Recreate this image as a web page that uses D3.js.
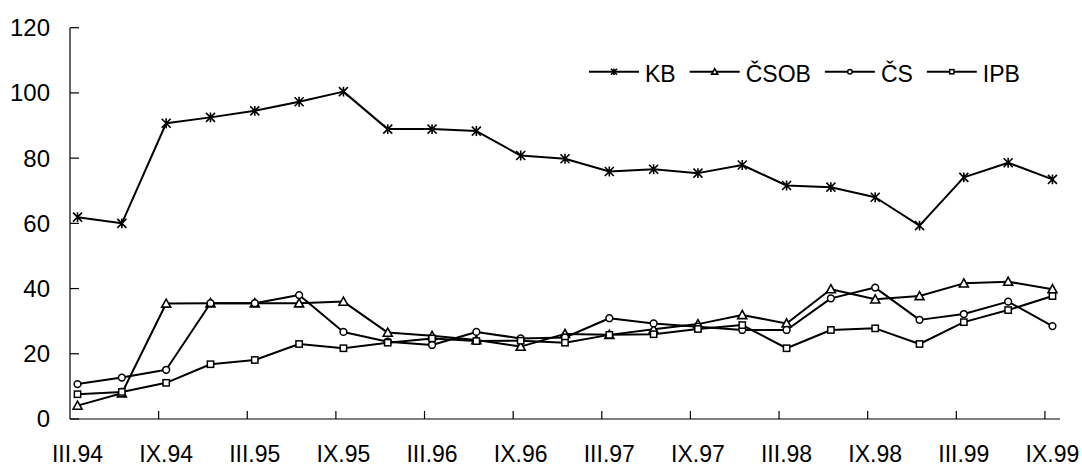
<!DOCTYPE html>
<html><head><meta charset="utf-8">
<script src="https://cdn.jsdelivr.net/npm/d3@7"></script>
<style>
html,body{margin:0;padding:0;background:#fff;}
svg{display:block;}
text{font-family:"Liberation Sans",Arial,sans-serif;fill:#000;}
</style></head>
<body>
<svg id="chart" width="1082" height="468"></svg>
<script>
// ---- data ----
const categories = ["III.94","VI.94","IX.94","XII.94","III.95","VI.95","IX.95","XII.95",
  "III.96","VI.96","IX.96","XII.96","III.97","VI.97","IX.97","XII.97",
  "III.98","VI.98","IX.98","XII.98","III.99","VI.99","IX.99"];
const tickLabels = ["III.94","IX.94","III.95","IX.95","III.96","IX.96","III.97","IX.97","III.98","IX.98","III.99","IX.99"];
const yTicks = [0,20,40,60,80,100,120];
const seriesNames = ["KB","ČSOB","ČS","IPB"];
const kb   = [61.9,60.0,90.7,92.5,94.5,97.3,100.4,88.9,88.9,88.3,80.8,79.8,75.9,76.6,75.4,77.9,71.6,71.1,68.0,59.3,74.1,78.6,73.5];
const csob = [4.1,7.9,35.4,35.5,35.5,35.5,36.0,26.5,25.5,24.2,22.2,26.1,25.8,27.5,29.1,31.9,29.3,39.8,36.7,37.7,41.6,42.1,39.8];
const cs   = [10.7,12.7,15.1,35.5,35.5,38.0,26.7,23.7,22.7,26.7,24.7,25.0,30.9,29.3,28.3,27.3,27.3,37.0,40.3,30.4,32.2,36.0,28.5];
const ipb  = [7.6,8.3,11.1,16.8,18.1,23.0,21.7,23.4,24.7,23.9,24.0,23.4,25.8,26.0,27.6,28.8,21.7,27.3,27.8,23.0,29.7,33.4,37.7];

const seriesValues = [kb, csob, cs, ipb];
const markerTypes = ["star","triangle","circle","square"];

// ---- layout ----
const svg = d3.select("#chart");
const x = d3.scaleLinear().domain([-0.17, categories.length - 1 + 0.17]).range([70, 1060]);
const y = d3.scaleLinear().domain([0, 120]).range([419, 27.7]);

// axes
const g = svg.append("g");
// x axis line
g.append("line").attr("x1", x.range()[0]).attr("x2", x.range()[1])
  .attr("y1", y(0)).attr("y2", y(0)).attr("stroke", "#000").attr("stroke-width", 1.2);
// y axis line
g.append("line").attr("x1", x.range()[0]).attr("x2", x.range()[0])
  .attr("y1", y(120)).attr("y2", y(0)).attr("stroke", "#000").attr("stroke-width", 1.2);

// y ticks (inside)
g.selectAll(".yt").data(yTicks).enter().append("line")
  .attr("x1", x.range()[0]).attr("x2", x.range()[0] + 9)
  .attr("y1", d => y(d)).attr("y2", d => y(d))
  .attr("stroke", "#000").attr("stroke-width", 1.2);
g.selectAll(".yl").data(yTicks).enter().append("text")
  .attr("x", 50).attr("y", d => y(d)).attr("dy", "0.35em")
  .attr("text-anchor", "end").attr("font-size", 24).text(d => d);

// x ticks (inside), every 2 categories
const xTickPos = d3.range(1, Math.floor(categories.length / 2) + 1).map(k => -0.17 + 2 * k);
g.selectAll(".xt").data(xTickPos).enter().append("line")
  .attr("x1", d => x(d)).attr("x2", d => x(d))
  .attr("y1", y(0)).attr("y2", y(0) - 8)
  .attr("stroke", "#000").attr("stroke-width", 1.2);
g.selectAll(".xl").data(tickLabels).enter().append("text")
  .attr("x", d => x(categories.indexOf(d))).attr("y", 462)
  .attr("text-anchor", "middle").attr("font-size", 23).text(d => d);

// marker drawing
function drawMarker(sel, type, s) {
  if (type === "star") {
    sel.append("path")
      .attr("d", `M${-s},${-s}L${s},${s}M${-s},${s}L${s},${-s}M0,${-s * 1.1}L0,${s * 1.1}`)
      .attr("stroke", "#000").attr("stroke-width", 1.6).attr("fill", "none");
  } else if (type === "triangle") {
    sel.append("path")
      .attr("d", `M0,${-s}L${s},${s * 0.8}L${-s},${s * 0.8}Z`)
      .attr("stroke", "#000").attr("stroke-width", 1.6).attr("fill", "#fff");
  } else if (type === "circle") {
    sel.append("circle").attr("r", s * 0.75)
      .attr("stroke", "#000").attr("stroke-width", 1.5).attr("fill", "#fff");
  } else {
    sel.append("rect").attr("x", -s * 0.7).attr("y", -s * 0.7)
      .attr("width", s * 1.4).attr("height", s * 1.4)
      .attr("stroke", "#000").attr("stroke-width", 1.5).attr("fill", "#fff");
  }
}

const line = d3.line().x((d, i) => x(i)).y(d => y(d));

seriesValues.forEach((vals, si) => {
  const sg = svg.append("g");
  sg.append("path").attr("d", line(vals)).attr("fill", "none")
    .attr("stroke", "#000").attr("stroke-width", 2).attr("stroke-linejoin", "round");
  vals.forEach((v, i) => {
    const m = sg.append("g").attr("transform", `translate(${x(i)},${y(v)})`);
    drawMarker(m, markerTypes[si], si === 0 ? 4.5 : 4.5);
  });
});

// legend
const legend = svg.append("g");
let lx = 589;
const ly = 71.7;
seriesNames.forEach((name, si) => {
  legend.append("line").attr("x1", lx).attr("x2", lx + 50).attr("y1", ly).attr("y2", ly)
    .attr("stroke", "#000").attr("stroke-width", 2);
  const m = legend.append("g").attr("transform", `translate(${lx + 25},${ly})`);
  drawMarker(m, markerTypes[si], 3);
  const t = legend.append("text").attr("x", lx + 56).attr("y", ly + 6)
    .attr("dy", "0.2em").attr("font-size", 23).text(name);
  lx = lx + 56 + t.node().getComputedTextLength() + 14;
});
</script>
</body></html>
